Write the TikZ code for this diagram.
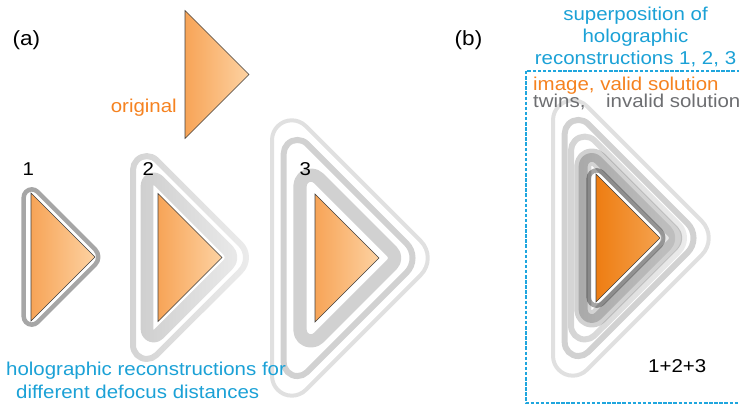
\documentclass[tikz,border=0pt]{standalone}
\usepackage{fontspec}
\setmainfont{Liberation Sans}[FakeStretch=1.1]
\usetikzlibrary{fadings}

\definecolor{cyantxt}{HTML}{1BA1D6}
\definecolor{boxcyan}{HTML}{1FA6DE}
\definecolor{orangetxt}{HTML}{F58220}
\definecolor{graytxt}{HTML}{6D6E71}
\definecolor{trilightL}{HTML}{F7A457}
\definecolor{trilightR}{HTML}{FDD2A2}
\definecolor{tridarkL}{HTML}{EE7D12}
\definecolor{tridarkR}{HTML}{F5A24E}

% reconstruction rings grow lighter towards the apex
\tikzfading[name=ringfade, left color=transparent!0, right color=transparent!55]

\tikzset{
  lbl/.style={inner sep=0pt, font=\fontsize{18.6}{21}\selectfont},
  panel/.style={inner sep=0pt, font=\fontsize{20.5}{23}\selectfont},
  triedge/.style={draw=black!75, line width=0.6},
  ringbase/.style={draw=black, line join=round},
  ringone/.style={ringbase, draw opacity=0.35, line width=4.5},
  ringtwoin/.style={ringbase, draw opacity=0.19, line width=12.6, path fading=ringfade},
  ringtwoout/.style={ringbase, draw opacity=0.17, line width=6, path fading=ringfade},
  ringthreein/.style={ringbase, draw opacity=0.18, line width=13.3},
  ringthreemid/.style={ringbase, draw opacity=0.18, line width=6},
  ringthreeout/.style={ringbase, draw opacity=0.12, line width=4},
}

% rounded ring around a right-pointing triangle (left edge x0, centre height yc)
% #3 offset of the left side, #4 offset of the slanted sides,
% #5 radius at the two left corners, #6 radius at the apex, #7 style
\newcommand\ringshape[7]{%
  \pgfmathsetmacro\rgL{#1-#3}%
  \pgfmathsetmacro\rgTx{#1-#3+#5}%
  \pgfmathsetmacro\rgH{64+1.4142*#4+#3-2.4142*#5}%
  \pgfmathsetmacro\rgTy{#2-\rgH}%
  \pgfmathsetmacro\rgBy{#2+\rgH}%
  \pgfmathsetmacro\rgAx{#1+64+1.4142*#4-1.4142*#6}%
  \pgfmathsetmacro\rgTd{0.7071*#5}%
  \pgfmathsetmacro\rgAd{0.7071*#6}%
  \path[#7] (\rgL,\rgTy) -- (\rgL,\rgBy) arc[start angle=180,end angle=45,radius=#5]
    -- (\rgAx+\rgAd,#2+\rgAd) arc[start angle=45,end angle=-45,radius=#6]
    -- (\rgTx+\rgTd,\rgTy-\rgTd) arc[start angle=-45,end angle=-180,radius=#5] -- cycle;
}

% shaded triangle: left edge x0, centre height yc, left and right colours
\newcommand\trishape[4]{%
  \shade[left color=#3, right color=#4] (#1,#2-64) -- (#1+64,#2) -- (#1,#2+64) -- cycle;
  \draw[triedge] (#1,#2-64) -- (#1+64,#2) -- (#1,#2+64) -- cycle;
}

\newcommand\ringsone[2]{\ringshape{#1}{#2}{7.3}{5.5}{8.1}{10.9}{ringone}}
\newcommand\ringstwo[2]{%
  \ringshape{#1}{#2}{11}{9.3}{6.7}{10}{ringtwoin}%
  \ringshape{#1}{#2}{25}{22.6}{13.8}{19.3}{ringtwoout}}
\newcommand\ringsthree[2]{%
  \ringshape{#1}{#2}{15}{13.7}{10.9}{9}{ringthreein}%
  \ringshape{#1}{#2}{31.3}{29.8}{13.7}{20.8}{ringthreemid}%
  \ringshape{#1}{#2}{43}{41.5}{19.8}{24}{ringthreeout}}

\begin{document}
\begin{tikzpicture}[x=1pt, y=-1pt]
  \useasboundingbox (0,0) rectangle (739,404);
  \clip (0,0) rectangle (739,404);

  % (a) original object and three reconstructions
  \trishape{185}{74.5}{trilightL}{trilightR}
  \ringsone{31}{257}
  \trishape{31}{257}{trilightL}{trilightR}
  \ringstwo{158}{257.5}
  \trishape{158}{257.5}{trilightL}{trilightR}
  \ringsthree{315}{258}
  \trishape{315}{258}{trilightL}{trilightR}

  % (b) superposition of all reconstructions
  \ringsone{596}{238}
  \ringstwo{596}{238}
  \ringsthree{596}{238}
  \trishape{596}{238}{tridarkL}{tridarkR}
  \draw[boxcyan, line width=2.2, dash pattern=on 3.5 off 1.6] (526,71) rectangle (760,403);

  % labels
  \node[panel, anchor=base west] (panelA) at (12.5,46) {(a)};
  \node[panel, anchor=base west] (panelB) at (454.5,46) {(b)};
  \node[lbl, orangetxt, anchor=base east] (orig) at (177,112.7) {original};
  \node[lbl, anchor=base west] (numOne) at (22.5,175) {1};
  \node[lbl, anchor=base west] (numTwo) at (142.5,175) {2};
  \node[lbl, anchor=base west] (numThree) at (299.5,175) {3};
  \node[lbl, cyantxt, anchor=base west] (capAone) at (6,375) {holographic reconstructions for};
  \node[lbl, cyantxt, anchor=base west] (capAtwo) at (16,398) {different defocus distances};
  \node[lbl, cyantxt, anchor=base] (capBone) at (635.5,20.7) {superposition of};
  \node[lbl, cyantxt, anchor=base] (capBtwo) at (635.5,43) {holographic};
  \node[lbl, cyantxt, anchor=base] (capBthree) at (635.5,65) {reconstructions 1, 2, 3};
  \node[lbl, orangetxt, anchor=base west] (valid) at (533,90.5) {image, valid solution};
  \node[lbl, graytxt, anchor=base west] (twinsA) at (533,107.5) {twins,};
  \node[lbl, graytxt, anchor=base west] (twinsB) at (606,107.5) {invalid solution};
  \node[lbl, anchor=base west] (sumlbl) at (648,372) {1+2+3};
\end{tikzpicture}
\end{document}
